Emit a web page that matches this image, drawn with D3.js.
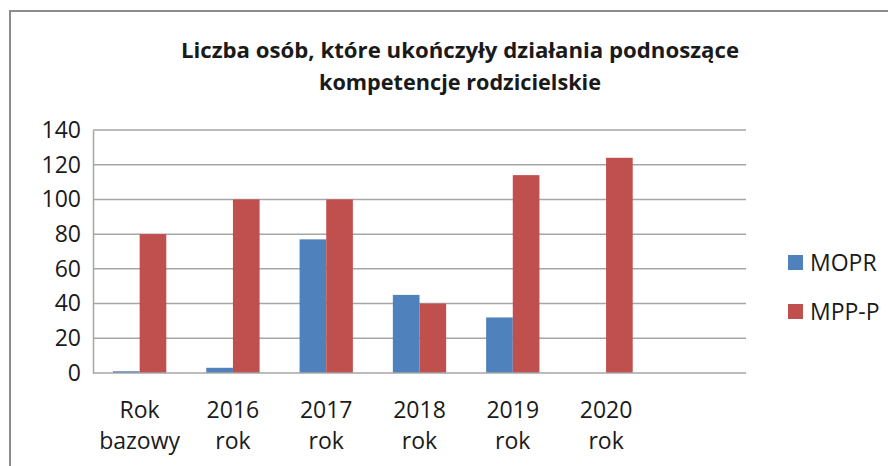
<!DOCTYPE html>
<html>
<head>
<meta charset="utf-8">
<script src="https://cdn.jsdelivr.net/npm/d3@7"></script>
<style>
  body { margin: 0; background: #fff; }
  text { font-family: "Open Sans", "Noto Sans", sans-serif; fill: #1a1a1a; }
  .title { font-family: "Liberation Sans Narrow", "Open Sans", sans-serif; }
</style>
</head>
<body>
<div id="container"></div>
<script>
const categories = [['Rok', 'bazowy'], ['2016', 'rok'], ['2017', 'rok'], ['2018', 'rok'], ['2019', 'rok'], ['2020', 'rok'], ['', '']];
const seriesNames = ['MOPR', 'MPP-P'];
const mopr = [1, 3, 77, 45, 32, null, null];
const mppp = [80, 100, 100, 40, 114, 124, null];
const yTicks = [0, 20, 40, 60, 80, 100, 120, 140];
const colors = ['#4f81bd', '#c0504d'];
const titleLines = ['Liczba osób, które ukończyły działania podnoszące', 'kompetencje rodzicielskie'];

const width = 888, height = 466;
const svg = d3.select('#container').append('svg')
    .attr('width', width)
    .attr('height', height);

// chart frame
svg.append('rect')
    .attr('x', 10).attr('y', 11)
    .attr('width', 900).attr('height', 500)
    .attr('fill', 'none')
    .attr('stroke', '#8c8c8c')
    .attr('stroke-width', 2);

// title
titleLines.forEach((t, i) => {
    svg.append('text')
        .attr('class', 'title')
        .attr('x', 460)
        .attr('y', 58 + i * 32)
        .attr('text-anchor', 'middle')
        .style('font-size', '22px')
        .style('font-weight', 'bold')
        .attr('textLength', i === 0 ? 558 : 282)
        .attr('lengthAdjust', 'spacingAndGlyphs')
        .text(t);
});

const plotL = 93, plotR = 746, plotT = 130, plotB = 373;

const x0 = d3.scaleBand().domain(d3.range(categories.length)).range([plotL, plotR]).paddingInner(0).paddingOuter(0);
const bw = x0.bandwidth() / 3.5;
const x1 = d3.scaleBand().domain([0, 1]).range([x0.bandwidth() * 0.75 / 3.5, x0.bandwidth() * 0.75 / 3.5 + 2 * bw]);
const y = d3.scaleLinear().domain([0, 140]).range([plotB, plotT]);

// gridlines
svg.append('g')
    .selectAll('line')
    .data(yTicks.filter(d => d > 0))
    .enter().append('line')
    .attr('x1', plotL).attr('x2', plotR)
    .attr('y1', d => y(d)).attr('y2', d => y(d))
    .attr('stroke', '#a6a6a6')
    .attr('stroke-width', 1.5);

// y axis
const yAxis = d3.axisLeft(y).tickValues(yTicks).tickSize(0).tickPadding(12);
svg.append('g')
    .attr('transform', `translate(${plotL},0)`)
    .call(yAxis)
    .call(g => g.select('.domain').attr('stroke', '#a6a6a6').attr('stroke-width', 1.5))
    .call(g => g.selectAll('text').style('font-size', '23px').attr('fill', '#1a1a1a'));

// bars
const series = [mopr, mppp];
series.forEach((vals, s) => {
    svg.append('g').selectAll('rect')
        .data(vals.map((v, i) => ({ i, v })).filter(d => d.v !== null))
        .enter().append('rect')
        .attr('x', d => x0(d.i) + x1(s))
        .attr('width', x1.bandwidth())
        .attr('y', d => y(d.v))
        .attr('height', d => y(0) - y(d.v))
        .attr('fill', colors[s]);
});

// x axis line
svg.append('line')
    .attr('x1', plotL).attr('x2', plotR)
    .attr('y1', y(0)).attr('y2', y(0))
    .attr('stroke', '#a6a6a6')
    .attr('stroke-width', 1.5);

// category labels
const xl = svg.append('g');
categories.forEach((c, i) => {
    c.forEach((line, j) => {
        xl.append('text')
            .attr('x', x0(i) + x0.bandwidth() / 2)
            .attr('y', 418 + j * 31)
            .attr('text-anchor', 'middle')
            .style('font-size', '23px')
            .text(line);
    });
});

// legend
const legend = svg.append('g');
seriesNames.forEach((n, i) => {
    legend.append('rect')
        .attr('x', 788).attr('y', 255 + i * 49)
        .attr('width', 15).attr('height', 15)
        .attr('fill', colors[i]);
    legend.append('text')
        .attr('x', 810).attr('y', 271 + i * 49)
        .style('font-size', '23px')
        .text(n);
});
</script>
</body>
</html>
